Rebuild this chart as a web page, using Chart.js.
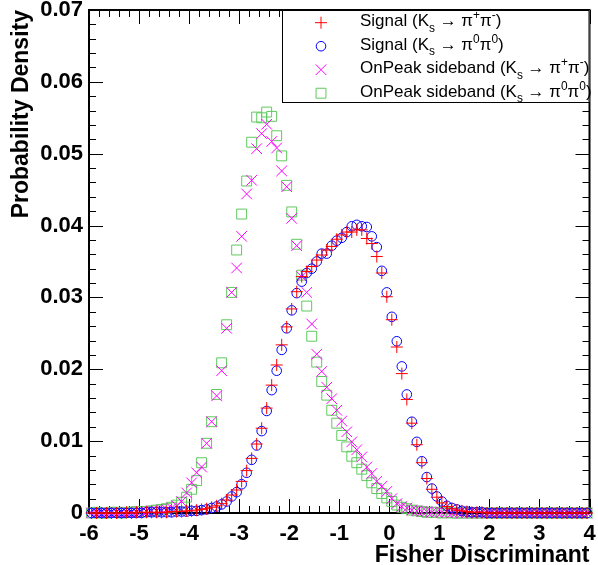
<!DOCTYPE html>
<html>
<head>
<meta charset="utf-8">
<script src="https://cdn.jsdelivr.net/npm/chart.js@4.4.1/dist/chart.umd.min.js"></script>
<style>
html, body { margin: 0; padding: 0; background: #fff; }
canvas { display: block; }
</style>
</head>
<body>
<canvas id="myChart" width="598" height="565"></canvas>
<script>
// histogram binning: 100 bins from -6 to 4
const binLow = -6;
const binWidth = 0.1;
const binCenters = Array.from({length: 100}, (_, i) => +(binLow + binWidth * (i + 0.5)).toFixed(2));

const xTicks = [-6, -5, -4, -3, -2, -1, 0, 1, 2, 3, 4];
const yTicks = [0, 0.01, 0.02, 0.03, 0.04, 0.05, 0.06, 0.07];

const labels = [
	'Signal (K_{s} \u2192 \u03c0^{+}\u03c0^{-})',
	'Signal (K_{s} \u2192 \u03c0^{0}\u03c0^{0})',
	'OnPeak sideband (K_{s} \u2192 \u03c0^{+}\u03c0^{-})',
	'OnPeak sideband (K_{s} \u2192 \u03c0^{0}\u03c0^{0})'
];

const signalPiPi = [
	0, 0, 0, 0, 0, 0, 0, 0.0001, 0, 0.0001,
	0.0001, 0.0001, 0.0001, 0.0001, 0.0001, 0.0001, 0.0002, 0.0002, 0.0002, 0.0003,
	0.0003, 0.0004, 0.0005, 0.0006, 0.0008, 0.0010, 0.0013, 0.0018, 0.0025, 0.0032,
	0.0044, 0.0059, 0.0076, 0.0096, 0.0118, 0.0146, 0.0178, 0.0206, 0.0234, 0.0259,
	0.0284, 0.0308, 0.0329, 0.0336, 0.0343, 0.0352, 0.0359, 0.0366, 0.0371, 0.0381,
	0.0387, 0.0391, 0.0391, 0.0394, 0.0394, 0.0382, 0.0375, 0.0357, 0.0334, 0.0301,
	0.0269, 0.0231, 0.0194, 0.0158, 0.0125, 0.0095, 0.0070, 0.0048, 0.0033, 0.0022,
	0.0014, 0.0009, 0.0006, 0.0004, 0.0003, 0.0002, 0.0001, 0.0001, 0.0001, 0,
	0, 0, 0, 0, 0, 0, 0, 0, 0, 0,
	0, 0, 0, 0, 0, 0, 0, 0, 0, 0
];

const signalPi0Pi0 = [
	0, 0, 0, 0, 0, 0, 0, 0, 0, 0,
	0, 0.0001, 0.0001, 0.0001, 0.0001, 0.0001, 0.0001, 0.0002, 0.0002, 0.0002,
	0.0003, 0.0003, 0.0004, 0.0005, 0.0007, 0.0009, 0.0012, 0.0016, 0.0023, 0.0029,
	0.0040, 0.0056, 0.0074, 0.0094, 0.0114, 0.0142, 0.0171, 0.0198, 0.0227, 0.0257,
	0.0282, 0.0306, 0.0322, 0.0334, 0.0340, 0.0350, 0.0361, 0.0361, 0.0372, 0.0379,
	0.0383, 0.0391, 0.0399, 0.0401, 0.0399, 0.0398, 0.0385, 0.0370, 0.0337, 0.0307,
	0.0273, 0.0239, 0.0204, 0.0165, 0.0127, 0.0099, 0.0072, 0.0050, 0.0034, 0.0023,
	0.0016, 0.0010, 0.0007, 0.0005, 0.0003, 0.0002, 0.0001, 0.0001, 0.0001, 0,
	0, 0, 0, 0, 0, 0, 0, 0, 0, 0,
	0, 0, 0, 0, 0, 0, 0, 0, 0, 0
];

const sidebandPiPi = [
	0, 0, 0, 0.0001, 0, 0.0001, 0.0001, 0.0001, 0.0001, 0.0001,
	0.0002, 0.0002, 0.0003, 0.0003, 0.0004, 0.0005, 0.0007, 0.0010, 0.0016, 0.0028,
	0.0042, 0.0056, 0.0064, 0.0097, 0.0127, 0.0163, 0.0198, 0.0257, 0.0307, 0.0341,
	0.0385, 0.0444, 0.0463, 0.0507, 0.0528, 0.0541, 0.0517, 0.0508, 0.0476, 0.0454,
	0.0410, 0.0372, 0.0329, 0.0307, 0.0263, 0.0221, 0.0197, 0.0175, 0.0159, 0.0143,
	0.0128, 0.0113, 0.0099, 0.0088, 0.0078, 0.0064, 0.0055, 0.0044, 0.0037, 0.0030,
	0.0020, 0.0013, 0.0009, 0.0007, 0.0004, 0.0003, 0.0002, 0.0002, 0.0001, 0.0001,
	0.0001, 0.0001, 0, 0.0001, 0, 0, 0, 0, 0, 0,
	0, 0, 0, 0, 0, 0, 0, 0, 0, 0,
	0, 0, 0, 0, 0, 0, 0, 0, 0, 0
];

const sidebandPi0Pi0 = [
	0, 0.0001, 0, 0, 0.0001, 0.0001, 0, 0.0001, 0.0001, 0.0002,
	0.0002, 0.0002, 0.0003, 0.0004, 0.0005, 0.0006, 0.0008, 0.0011, 0.0015, 0.0022,
	0.0033, 0.0045, 0.0070, 0.0097, 0.0127, 0.0165, 0.0209, 0.0262, 0.0307, 0.0366,
	0.0416, 0.0462, 0.0516, 0.0551, 0.0550, 0.0558, 0.0552, 0.0525, 0.0497, 0.0456,
	0.0419, 0.0374, 0.0331, 0.0288, 0.0246, 0.0210, 0.0183, 0.0164, 0.0143, 0.0125,
	0.0108, 0.0092, 0.0079, 0.0070, 0.0061, 0.0052, 0.0042, 0.0034, 0.0027, 0.0021,
	0.0016, 0.0011, 0.0008, 0.0006, 0.0004, 0.0003, 0.0002, 0.0001, 0.0001, 0.0001,
	0, 0.0001, 0, 0, 0, 0, 0, 0, 0, 0,
	0, 0, 0, 0, 0, 0, 0, 0, 0, 0,
	0, 0, 0, 0, 0, 0, 0, 0, 0, 0
];

const FONT = '"Liberation Sans", Arial, Helvetica, sans-serif';
Chart.defaults.font.family = FONT;
Chart.defaults.color = '#000';

function toPoints(values) {
	return values.map((v, i) => ({x: binCenters[i], y: v}));
}

const markers = [
	{style: 'cross', color: '#ff0000', radius: 6},
	{style: 'circle', color: '#0000ff', radius: 4.8},
	{style: 'crossRot', color: '#ff00ff', radius: 7.5},
	{style: 'rect', color: '#5fc95f', radius: 7}
];
const series = [signalPiPi, signalPi0Pi0, sidebandPiPi, sidebandPi0Pi0];

// ROOT style text: _{..} subscript, ^{..} superscript
function drawRich(ctx, text, x, y, size) {
	const parts = text.split(/([_^]\{[^}]*\})/).filter(Boolean);
	ctx.textAlign = 'left';
	ctx.textBaseline = 'alphabetic';
	for (const p of parts) {
		let s = p, fs = size, dy = 0;
		if (p[0] === '_') { s = p.slice(2, -1); fs = size * 0.7; dy = size * 0.32; }
		else if (p[0] === '^') { s = p.slice(2, -1); fs = size * 0.7; dy = -size * 0.42; }
		ctx.font = fs + 'px ' + FONT;
		ctx.fillText(s, x, y + dy);
		x += ctx.measureText(s).width;
	}
}

function drawMarker(ctx, m, x, y) {
	ctx.strokeStyle = m.color;
	ctx.lineWidth = 1;
	ctx.beginPath();
	if (m.style === 'cross') {
		ctx.moveTo(x - m.radius, y); ctx.lineTo(x + m.radius, y);
		ctx.moveTo(x, y - m.radius); ctx.lineTo(x, y + m.radius);
	} else if (m.style === 'crossRot') {
		const d = m.radius * Math.SQRT1_2;
		ctx.moveTo(x - d, y - d); ctx.lineTo(x + d, y + d);
		ctx.moveTo(x - d, y + d); ctx.lineTo(x + d, y - d);
	} else if (m.style === 'circle') {
		ctx.arc(x, y, m.radius, 0, Math.PI * 2);
	} else {
		const s = m.radius * Math.SQRT1_2;
		ctx.rect(x - s, y - s, 2 * s, 2 * s);
	}
	ctx.stroke();
}

// frame with inward ticks on all four sides
const rootFrame = {
	id: 'rootFrame',
	beforeDatasetsDraw(chart) {
		const {ctx, chartArea: a, scales: {x, y}} = chart;
		ctx.save();
		ctx.strokeStyle = '#000';
		ctx.lineWidth = 1;
		ctx.beginPath();
		for (let k = 0; k <= 50; k++) {
			const px = Math.round(x.getPixelForValue(-6 + k * 0.2)) + 0.5;
			const len = k % 5 === 0 ? 14 : 7;
			ctx.moveTo(px, a.bottom); ctx.lineTo(px, a.bottom - len);
			ctx.moveTo(px, a.top); ctx.lineTo(px, a.top + len);
		}
		for (let k = 0; k <= 35; k++) {
			const py = Math.round(y.getPixelForValue(k * 0.002)) + 0.5;
			const len = k % 5 === 0 ? 14 : 7;
			ctx.moveTo(a.left, py); ctx.lineTo(a.left + len, py);
			ctx.moveTo(a.right, py); ctx.lineTo(a.right - len, py);
		}
		ctx.stroke();
		ctx.lineWidth = 2;
		ctx.strokeRect(a.left, a.top, a.right - a.left, a.bottom - a.top);
		ctx.restore();
	}
};

const boxLegend = {
	id: 'boxLegend',
	afterDatasetsDraw(chart) {
		const {ctx, chartArea: a} = chart;
		const left = 282, top = a.top, right = a.right, bottom = 102;
		ctx.save();
		ctx.fillStyle = '#fff';
		ctx.fillRect(left, top, right - left, bottom - top);
		ctx.strokeStyle = '#000';
		ctx.lineWidth = 1;
		ctx.strokeRect(left + 0.5, top + 0.5, right - left - 1, bottom - top);
		chart.data.datasets.forEach((ds, i) => {
			const ym = 22.7 + i * 23.5;
			drawMarker(ctx, markers[i], 321, ym);
			ctx.fillStyle = '#000';
			drawRich(ctx, ds.label, 360, ym + 3.5, 17);
		});
		ctx.restore();
	}
};

const data = {
	datasets: series.map((vals, i) => ({
		label: labels[i],
		data: toPoints(vals),
		showLine: false,
		pointStyle: markers[i].style,
		pointRadius: markers[i].radius,
		pointBorderColor: markers[i].color,
		pointBackgroundColor: 'rgba(0,0,0,0)',
		pointBorderWidth: 1,
		clip: false
	}))
};

const config = {
	type: 'scatter',
	data: data,
	options: {
		responsive: false,
		animation: false,
		layout: {padding: {left: 0, right: 4, top: 10, bottom: 0}},
		plugins: {
			legend: {display: false},
			tooltip: {enabled: false}
		},
		scales: {
			x: {
				type: 'linear',
				min: -6,
				max: 4,
				afterBuildTicks: (s) => { s.ticks = xTicks.map(v => ({value: v})); },
				afterFit: (s) => { s.height = 52; s.paddingLeft = 0; s.paddingRight = 0; },
				grid: {display: false, drawTicks: false},
				border: {display: false},
				ticks: {
					font: {size: 22, weight: 'bold'},
					padding: 8,
					maxRotation: 0,
					callback: (v) => String(v)
				},
				title: {
					display: true,
					text: 'Fisher Discriminant',
					align: 'end',
					font: {size: 23, weight: 'bold', lineHeight: 0.8},
					padding: {top: 0, bottom: 0}
				}
			},
			y: {
				type: 'linear',
				min: 0,
				max: 0.07,
				afterBuildTicks: (s) => { s.ticks = yTicks.map(v => ({value: v})); },
				afterFit: (s) => { s.width = 89; s.paddingTop = 0; s.paddingBottom = 0; },
				grid: {display: false, drawTicks: false},
				border: {display: false},
				ticks: {
					font: {size: 22, weight: 'bold'},
					padding: 6,
					callback: (v) => v === 0 ? '0' : v.toFixed(2)
				},
				title: {
					display: true,
					text: 'Probability Density',
					align: 'end',
					font: {size: 23, weight: 'bold'},
					padding: {top: 8, bottom: 0}
				}
			}
		}
	},
	plugins: [rootFrame, boxLegend]
};

const myChart = new Chart(document.getElementById('myChart'), config);
</script>
</body>
</html>
